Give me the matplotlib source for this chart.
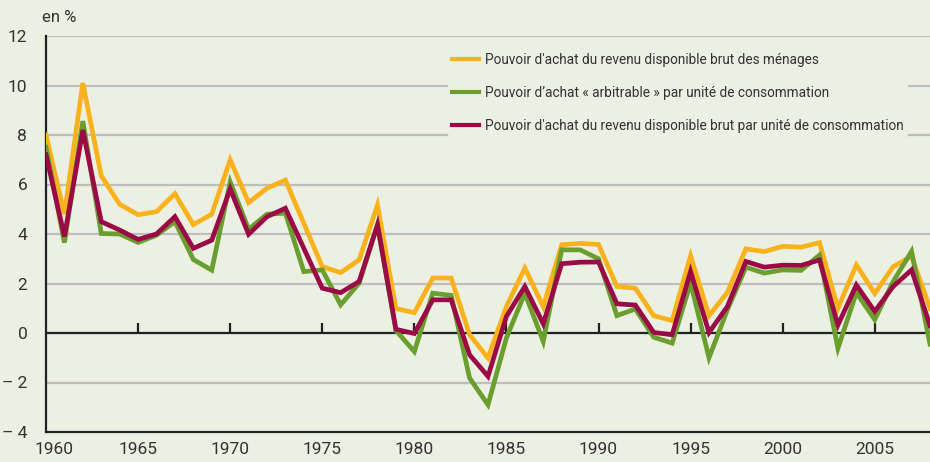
import numpy as np
import matplotlib
matplotlib.use("Agg")
import matplotlib.pyplot as plt
from matplotlib.transforms import ScaledTranslation

# Pouvoir d'achat - glissements annuels en %
annees = list(range(1960, 2009))

rdb_menages = [8.0, 4.8, 10.1, 6.35, 5.2, 4.78, 4.9, 5.63, 4.38, 4.8,
               7.0, 5.27, 5.85, 6.18, 4.43, 2.68, 2.44, 2.95, 5.17, 0.99,
               0.82, 2.22, 2.22, -0.07, -1.01, 1.07, 2.62, 1.07, 3.56, 3.62,
               3.58, 1.88, 1.81, 0.7, 0.5, 3.12, 0.7, 1.64, 3.4, 3.29,
               3.5, 3.47, 3.65, 1.0, 2.75, 1.6, 2.68, 3.1, 1.0]

arbitrable_uc = [7.5, 3.65, 8.56, 4.02, 4.0, 3.66, 3.95, 4.5, 2.97, 2.54,
                 6.1, 4.19, 4.8, 4.84, 2.48, 2.55, 1.14, 2.01, 4.37, 0.1,
                 -0.75, 1.61, 1.52, -1.82, -2.9, -0.2, 1.61, -0.34, 3.36, 3.36,
                 3.0, 0.7, 0.97, -0.17, -0.41, 2.02, -1.0, 0.94, 2.66, 2.42,
                 2.55, 2.53, 3.15, -0.62, 1.63, 0.54, 2.08, 3.3, -0.45]

rdb_uc = [7.2, 3.9, 8.2, 4.5, 4.16, 3.78, 4.0, 4.7, 3.42, 3.75,
          5.82, 3.99, 4.7, 5.04, 3.42, 1.81, 1.63, 2.08, 4.37, 0.15,
          -0.02, 1.34, 1.34, -0.88, -1.75, 0.67, 1.88, 0.37, 2.8, 2.86,
          2.87, 1.18, 1.13, 0.02, -0.07, 2.49, 0.02, 1.07, 2.89, 2.66,
          2.74, 2.73, 2.95, 0.32, 1.94, 0.87, 1.88, 2.55, 0.3]

libelles = ["Pouvoir d'achat du revenu disponible brut des ménages",
            "Pouvoir d\u2019achat « arbitrable » par unité de consommation",
            "Pouvoir d'achat du revenu disponible brut par unité de consommation"]
couleurs = ["#F9B21B", "#6A9E2F", "#9A0B46"]

yticks = [-4, -2, 0, 2, 4, 6, 8, 10, 12]
ylabels = ["\u2013 4", "\u2013 2", "0", "2", "4", "6", "8", "10", "12"]
xticks = list(range(1960, 2010, 5))

fond = "#EBF0E3"
plt.rcParams['font.family'] = ['Roboto', 'DejaVu Sans']

fig = plt.figure(figsize=(9.3, 4.62), dpi=100, facecolor=fond)
ax = fig.add_axes([46 / 930, 30 / 462, 884 / 930, 396 / 462])
ax.set_facecolor(fond)

# courbes : orange dessous, puis vert, puis violet
for serie, lab, col in zip([rdb_menages, arbitrable_uc, rdb_uc], libelles, couleurs):
    ax.plot(annees, serie, color=col, lw=3.4, label=lab, zorder=3,
            solid_joinstyle='miter')

ax.set_xlim(1960, 2008)
ax.set_ylim(-4, 12)

# grille horizontale grise
for y in yticks:
    if y not in (0, -4):
        ax.axhline(y, color="#BEBEBE", lw=1.6, zorder=1)
ax.axhline(0, color="#222222", lw=1.6, zorder=2)

# petites graduations sur la ligne zéro
ax.vlines(xticks[1:], 0, 0.4, color="#222222", lw=1.6, zorder=2)

for s in ["top", "right"]:
    ax.spines[s].set_visible(False)
for s in ["left", "bottom"]:
    ax.spines[s].set_color("#222222")
    ax.spines[s].set_linewidth(1.6)

ax.set_yticks(yticks)
ax.set_yticklabels(ylabels)
ax.set_xticks(xticks)
ax.tick_params(axis="y", length=0, pad=13.5, labelsize=12.5, labelcolor="#333333")
ax.tick_params(axis="x", length=0, pad=7.5, labelsize=12.5, labelcolor="#333333")

# le libellé 1960 est décalé vers la droite
premier = ax.get_xticklabels()[0]
premier.set_transform(premier.get_transform() + ScaledTranslation(6 / 72, 0, fig.dpi_scale_trans))

fig.text(42 / 930, 1 - 18 / 462, "en %", fontsize=12, color="#333333",
         va="center", ha="left")

leg = ax.legend(loc="upper left", bbox_to_anchor=(0.4548, 0.968),
                frameon=True, fontsize=9.8, handlelength=2.0, handletextpad=0.4,
                labelspacing=1.4, borderpad=0.3, borderaxespad=0)
leg.get_frame().set_facecolor(fond)
leg.get_frame().set_edgecolor("none")
leg.get_frame().set_alpha(1)
for t in leg.get_texts():
    t.set_color("#333333")
for l in leg.get_lines():
    l.set_linewidth(3)

fig.savefig("out.png", dpi=100, facecolor=fond)
